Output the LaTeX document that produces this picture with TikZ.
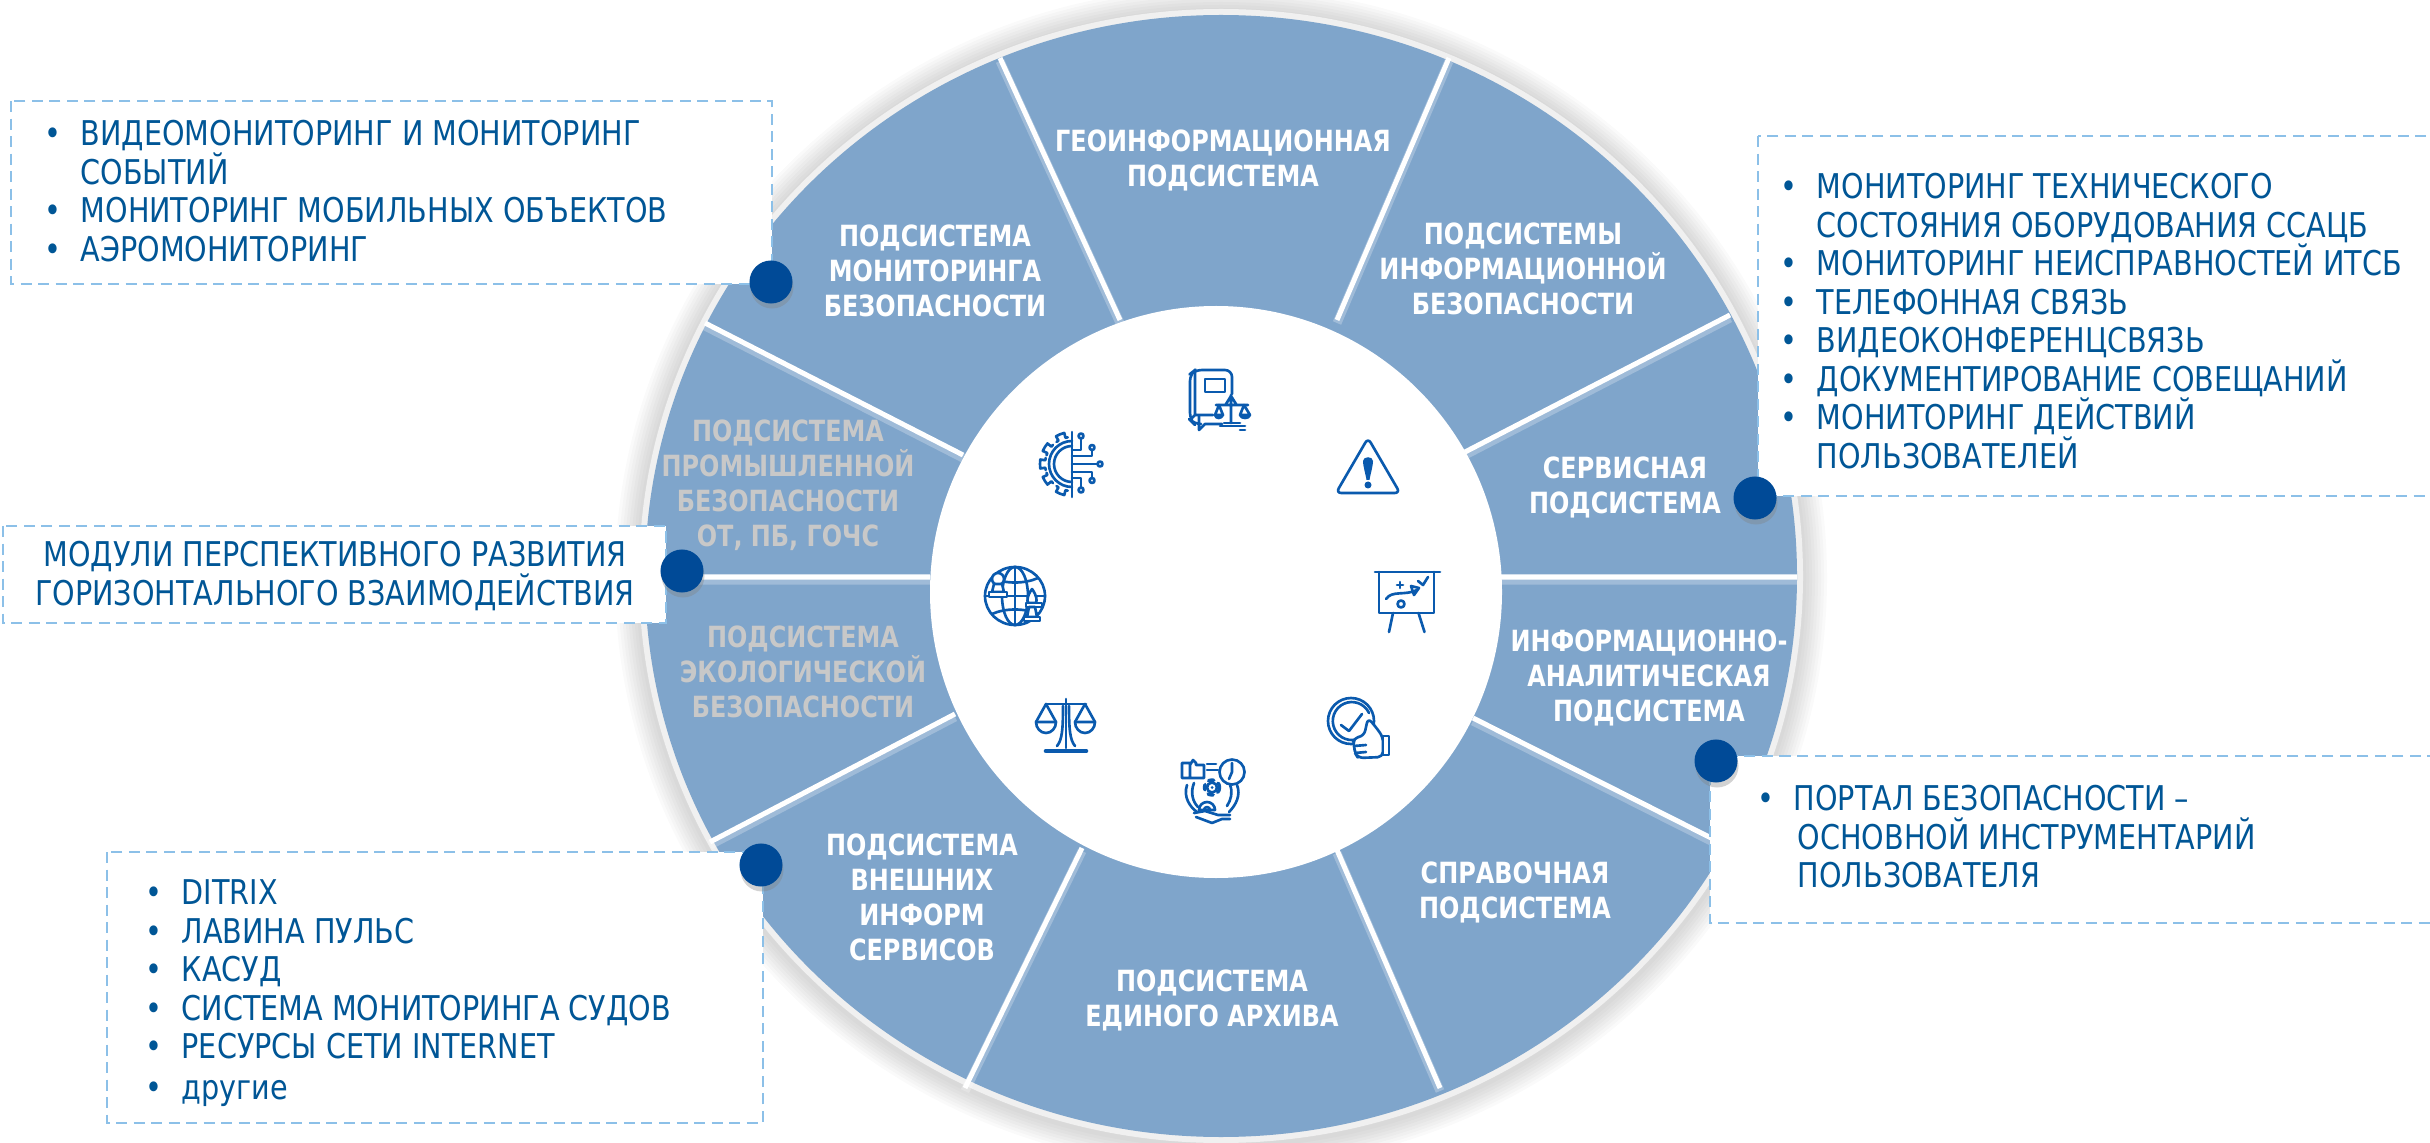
\documentclass[tikz,border=0pt]{standalone}
\usepackage{fontspec}
\setmainfont{DejaVu Sans}[FakeStretch=0.84, BoldFeatures={FakeStretch=0.82}]
\usetikzlibrary{shadows}
\definecolor{ringblue}{RGB}{127,165,203}
\definecolor{ringband}{RGB}{240,240,240}
\definecolor{listblue}{RGB}{0,86,150}
\definecolor{dashblue}{RGB}{140,192,232}
\definecolor{dotblue}{RGB}{0,74,151}
\definecolor{iconblue}{RGB}{10,90,174}
\definecolor{dimgray}{RGB}{200,200,200}
\newcommand{\bul}{\makebox[0.36cm][l]{\textbullet}}
\newcommand{\ind}{\hspace*{0.36cm}}
\tikzset{
  seglabel/.style={font=\fontsize{8.3}{9.96}\selectfont\bfseries, text=white, align=center, inner sep=0},
  dimlabel/.style={seglabel, text=dimgray},
  listtext/.style={font=\fontsize{9.7}{10.95}\selectfont, text=listblue, align=left, anchor=west, inner sep=0},
  dashbox/.style={draw=dashblue, fill=white, line width=0.6pt, dash pattern=on 0.11cm off 0.065cm},
  divider/.style={draw=white, line width=0.05cm},
  dividerglow/.style={draw=white, opacity=0.25, line width=0.09cm, yshift=-0.03cm},
  bluedot/.style={circle, fill=dotblue, minimum size=0.43cm, inner sep=0,
    drop shadow={shadow xshift=0.01cm, shadow yshift=-0.05cm, opacity=0.35}},
  icon/.style={draw=iconblue, line width=0.75pt, line cap=round, line join=round},
  iconfill/.style={icon, fill=white}
}
\begin{document}
\begin{tikzpicture}[x=0.01cm, y=-0.01cm]
  \useasboundingbox (0,0) rectangle (2430,1143);
  \clip (0,0) rectangle (2430,1143);
  % disk
  \foreach \g in {24,21,18,15,12,9,6,3}
    \fill[black, opacity=0.018] (1221,578) ellipse ({582+\g} and {567+\g});
  \fill[ringband] (1221,576) ellipse (582 and 567);
  \fill[ringblue] (1221,576) ellipse (576 and 561);
  % dividers
  \draw[dividerglow] (1000,58)--(1120,320) (1449,58)--(1337,320) (1730,315)--(1465,452)
    (1797,577)--(1501,577) (1735,850)--(1473,718) (1337,850)--(1440,1088)
    (1082,848)--(965,1088) (710,842)--(955,714) (645,577)--(930,577) (705,323)--(963,455);
  \draw[divider] (1000,58)--(1120,320) (1449,58)--(1337,320) (1730,315)--(1465,452)
    (1797,577)--(1501,577) (1735,850)--(1473,718) (1337,850)--(1440,1088)
    (1082,848)--(965,1088) (710,842)--(955,714) (645,577)--(930,577) (705,323)--(963,455);
  \fill[white] (1216,592) circle (286);
  % labels of the sectors
  \node[seglabel] (geo) at (1223,160) {ГЕОИНФОРМАЦИОННАЯ\\ПОДСИСТЕМА};
  \node[seglabel] (infosec) at (1523,269) {ПОДСИСТЕМЫ\\ИНФОРМАЦИОННОЙ\\БЕЗОПАСНОСТИ};
  \node[seglabel] (service) at (1625,487) {СЕРВИСНАЯ\\ПОДСИСТЕМА};
  \node[seglabel] (analytic) at (1649,678) {ИНФОРМАЦИОННО-\\АНАЛИТИЧЕСКАЯ\\ПОДСИСТЕМА};
  \node[seglabel] (refer) at (1515,892) {СПРАВОЧНАЯ\\ПОДСИСТЕМА};
  \node[seglabel] (archive) at (1212,1000) {ПОДСИСТЕМА\\ЕДИНОГО АРХИВА};
  \node[seglabel] (extern) at (922,897) {ПОДСИСТЕМА\\ВНЕШНИХ\\ИНФОРМ\\СЕРВИСОВ};
  \node[dimlabel] (ecology) at (803,672) {ПОДСИСТЕМА\\ЭКОЛОГИЧЕСКОЙ\\БЕЗОПАСНОСТИ};
  \node[dimlabel] (industry) at (788,485) {ПОДСИСТЕМА\\ПРОМЫШЛЕННОЙ\\БЕЗОПАСНОСТИ\\ОТ, ПБ, ГОЧС};
  \node[seglabel] (monitor) at (935,271) {ПОДСИСТЕМА\\МОНИТОРИНГА\\БЕЗОПАСНОСТИ};
  % lists
  \draw[dashbox] (11,101) rectangle (772,284);
  \draw[dashbox] (3,526) rectangle (666,623);
  \draw[dashbox] (107,852) rectangle (763,1123);
  \draw[dashbox] (1758,136) rectangle (2450,496);
  \draw[dashbox] (1710,756) rectangle (2450,923);
  \node[listtext] (listA) at (44,191) {\bul ВИДЕОМОНИТОРИНГ И МОНИТОРИНГ\\\ind СОБЫТИЙ\\\bul МОНИТОРИНГ МОБИЛЬНЫХ ОБЪЕКТОВ\\\bul АЭРОМОНИТОРИНГ};
  \node[listtext, align=center, anchor=center] (listB) at (335,576) {МОДУЛИ ПЕРСПЕКТИВНОГО РАЗВИТИЯ\\ГОРИЗОНТАЛЬНОГО ВЗАИМОДЕЙСТВИЯ};
  \node[listtext] (listC) at (145,993) {\bul DITRIX\\\bul ЛАВИНА ПУЛЬС\\\bul КАСУД\\\bul СИСТЕМА МОНИТОРИНГА СУДОВ\\\bul РЕСУРСЫ СЕТИ INTERNET\\[0.5pt]\bul другие};
  \node[listtext] (listD) at (1780,321) {\bul МОНИТОРИНГ ТЕХНИЧЕСКОГО\\\ind СОСТОЯНИЯ ОБОРУДОВАНИЯ ССАЦБ\\\bul МОНИТОРИНГ НЕИСПРАВНОСТЕЙ ИТСБ\\\bul ТЕЛЕФОННАЯ СВЯЗЬ\\\bul ВИДЕОКОНФЕРЕНЦСВЯЗЬ\\\bul ДОКУМЕНТИРОВАНИЕ СОВЕЩАНИЙ\\\bul МОНИТОРИНГ ДЕЙСТВИЙ\\\ind ПОЛЬЗОВАТЕЛЕЙ};
  \node[listtext] (listE) at (1757,837) {\bul ПОРТАЛ БЕЗОПАСНОСТИ --\\\ind\hspace*{0.04cm}ОСНОВНОЙ ИНСТРУМЕНТАРИЙ\\\ind\hspace*{0.04cm}ПОЛЬЗОВАТЕЛЯ};
  % dots
  \node[bluedot] (dotA) at (771,282) {};
  \node[bluedot] (dotB) at (682,571) {};
  \node[bluedot] (dotC) at (761,865) {};
  \node[bluedot] (dotD) at (1755,498) {};
  \node[bluedot] (dotE) at (1716,761) {};
  % icon: book and scales
  \draw[icon, rounded corners=2pt] (1232,394)--(1232,370)--(1195,370)--(1190,374)--(1190,420)--(1194,424)--(1199,424);
  \draw[icon] (1195,370)--(1195,415) (1190,420)--(1195,415)--(1213,415) (1199,417)--(1199,430)--(1205,424)--(1222,424);
  \draw[icon] (1205,379) rectangle (1225,392);
  \draw[icon] (1231,395)--(1231,423) (1216,405)--(1248,405) (1226,404)--(1231,396)--(1236,404);
  \draw[icon] (1219,405)--(1215,415)--(1223,415) (1219,405)--(1223,415) .. controls (1221,419) and (1216,419) .. (1215,415);
  \draw[icon] (1244,405)--(1240,415)--(1250,415)--(1244,405) (1240,415) .. controls (1241,419) and (1249,419) .. (1250,415);
  \draw[icon] (1220,426)--(1245,426) (1224,423)--(1240,423) (1240,430)--(1245,430);
  % icon: warning
  \draw[icon, rounded corners=1.5pt] (1368,438)--(1336,493)--(1400,493)--cycle;
  \fill[iconblue] (1363,461) .. controls (1363,456) and (1373,456) .. (1373,461)
    .. controls (1373,466) and (1370,476) .. (1369.5,480) -- (1366.5,480) .. controls (1366,476) and (1363,466) .. (1363,461);
  \fill[iconblue] (1368,485) circle (3.5);
  % icon: board
  \draw[icon] (1375,572)--(1440,572) (1379,572)--(1379,613)--(1434,613)--(1434,572);
  \draw[icon] (1393,613)--(1389,632) (1418.5,613)--(1424.5,632);
  \draw[icon] (1401,604) circle (3.5);
  \draw[icon] (1386,599) .. controls (1392,590) and (1405,596) .. (1417,590);
  \draw[icon] (1411,586)--(1419,588)--(1414,595)--cycle;
  \draw[icon] (1397,585)--(1403,585) (1400,582)--(1400,588);
  \draw[icon] (1418,581)--(1423,585)--(1428,577);
  % icon: thumb and check
  \draw[icon] (1351,721) circle (23);
  \draw[icon] (1369,713) arc (-25:-295:19);
  \draw[icon] (1341,725)--(1349,731)--(1362,714);
  \draw[iconfill, rounded corners=1.5pt] (1368,718)--(1375,726)--(1383,737)--(1383,757)--(1358,758)--(1355,753)--(1354,746)--(1353,738)--(1364,736)--cycle;
  \draw[icon] (1354,746)--(1366,745) (1355,753)--(1366,752);
  \draw[iconfill] (1383,736) rectangle (1389,755);
  % icon: process
  \draw[icon] (1190,763) rectangle (1182,778) (1190,765)--(1193,760)--(1196,763)--(1196,765)--(1204,765)--(1204,778)--(1190,778);
  \draw[icon] (1232,772) circle (12.5);
  \draw[icon] (1232,763)--(1232,772)--(1229,779);
  \draw[icon] (1207,764)--(1216,764) (1207,770)--(1218,770);
  \draw[icon] (1212,787.5) circle (5);
  \fill[iconblue] (1212,787.5) circle (1.5);
  \draw[icon, line width=1pt, dash pattern=on 1.5pt off 1.5pt] (1212,787.5) circle (7.5);
  \draw[icon] (1187,785) .. controls (1183,797) and (1190,807) .. (1197,812);
  \draw[icon] (1194,783) .. controls (1190,793) and (1193,802) .. (1198,807);
  \draw[icon] (1237,785) .. controls (1241,795) and (1236,805) .. (1229,812);
  \draw[icon] (1230,785) .. controls (1233,792) and (1231,800) .. (1227,806);
  \draw[iconfill] (1199,810) arc (180:360:8) -- cycle;
  \draw[icon] (1204,810) arc (180:360:3);
  \draw[icon] (1194,813)--(1205,811)--(1218,815)--(1230,815) (1196,817)--(1212,823)--(1222,819)--(1230,819);
  % icon: scales
  \draw[icon] (1066,699)--(1066,748) (1046,704)--(1086,704);
  \draw[icon] (1057,746) .. controls (1062,740) and (1063,730) .. (1063,706);
  \draw[icon] (1075,746) .. controls (1070,740) and (1069,730) .. (1069,706);
  \draw[icon] (1036,722)--(1046,704)--(1056,722) (1075,722)--(1085,704)--(1095,722);
  \draw[icon] (1036,722)--(1056,722) arc (0:180:10 and 11);
  \draw[icon] (1075,722)--(1095,722) arc (0:180:10 and 11);
  \draw[icon, line width=1.3pt] (1046,751)--(1086,751);
  % icon: globe
  \draw[icon] (1015,596) ellipse (30 and 29);
  \draw[icon] (1015,596) ellipse (13 and 29);
  \draw[icon] (1015,567)--(1015,625) (985,596)--(1045,596);
  \draw[icon] (992,578) .. controls (1005,584) and (1025,584) .. (1038,578);
  \draw[icon] (992,614) .. controls (1005,608) and (1025,608) .. (1038,614);
  \draw[iconfill] (998,579) circle (6);
  \draw[iconfill] (994,584)--(992,592)--(1004,592)--(1002,584)--cycle;
  \draw[iconfill] (989,592) rectangle (1007,597);
  \draw[iconfill] (1032,589) .. controls (1027,596) and (1027,600) .. (1028,603)--(1036,603) .. controls (1037,600) and (1037,596) .. (1032,589);
  \draw[iconfill] (1026,603) rectangle (1042,607);
  \draw[iconfill] (1029,607)--(1027,617)--(1037,617)--(1035,607)--cycle;
  \draw[iconfill] (1024,617) rectangle (1040,621);
  % icon: gear and circuit
  \draw[icon] (1072,446) arc (270:90:18);
  \draw[icon] (1072,441) arc (270:90:23);
  \foreach \a in {112,148,180,212,248}
    \draw[icon] (1072,464) ++(\a-13:27) arc (\a-13:\a-8:27) -- ++(\a-8:5) arc (\a-8:\a+8:32) -- ++(\a+8:-5) arc (\a+8:\a+13:27);
  \draw[icon] (1072,432)--(1072,497);
  \draw[icon] (1081,439)--(1081,450)--(1072,450) (1092,450)--(1092,456)--(1072,456) (1072,464)--(1097,464) (1092,478)--(1092,472)--(1072,472) (1081,487)--(1081,478)--(1072,478);
  \draw[icon] (1081,436) circle (2.5) (1092,447.5) circle (2.5) (1100,464) circle (2.5) (1092,480.5) circle (2.5) (1081,490) circle (2.5);
\end{tikzpicture}
\end{document}
